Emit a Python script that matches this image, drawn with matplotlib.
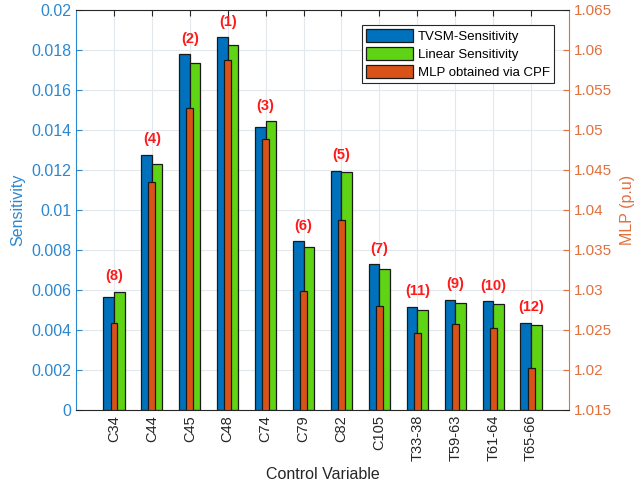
import matplotlib.pyplot as plt
import numpy as np

plt.rcParams['font.family'] = ['Liberation Sans', 'DejaVu Sans']

# Control variables and their sensitivities / maximum loading point
variables = ['C34', 'C44', 'C45', 'C48', 'C74', 'C79', 'C82', 'C105',
             'T33-38', 'T59-63', 'T61-64', 'T65-66']
tvsm_sens = [0.00567, 0.01277, 0.01778, 0.01863, 0.01415, 0.00845,
             0.01197, 0.00730, 0.00517, 0.00552, 0.00545, 0.00437]
linear_sens = [0.00592, 0.01232, 0.01733, 0.01823, 0.01443, 0.00817,
               0.01190, 0.00707, 0.00500, 0.00535, 0.00528, 0.00425]
mlp_cpf = [1.0259, 1.0435, 1.0528, 1.0588, 1.0489, 1.0299,
           1.0387, 1.0280, 1.0246, 1.0258, 1.0252, 1.0202]
ranks = ['(8)', '(4)', '(2)', '(1)', '(3)', '(6)', '(5)', '(7)',
         '(11)', '(9)', '(10)', '(12)']

blue = '#0072BD'
green = '#5FD414'
orange = '#D95319'
blue_axis = '#2C87CF'
orange_axis = '#E2703E'

x = np.arange(1, len(variables) + 1)

fig, ax = plt.subplots(figsize=(6.36, 4.9), dpi=100)
fig.subplots_adjust(left=0.1195, right=0.8947, top=0.9796, bottom=0.1633)

b1 = ax.bar(x - 0.14, tvsm_sens, width=0.28, color=blue, edgecolor='#1a1a1a',
            linewidth=0.9, label='TVSM-Sensitivity')
b2 = ax.bar(x + 0.14, linear_sens, width=0.28, color=green, edgecolor='#1a1a1a',
            linewidth=0.9, label='Linear Sensitivity')

for xi, t, l, r in zip(x, tvsm_sens, linear_sens, ranks):
    ax.annotate(r, (xi, max(t, l)), xytext=(0, 6), textcoords='offset points',
                ha='center', va='bottom', color='#FF1A1A', fontsize=10.5,
                fontweight='bold')

ax.set_xlim(0, 13)
ax.set_ylim(0, 0.02)
ax.set_yticks(np.arange(0, 0.0201, 0.002))
ax.set_yticklabels(['0', '0.002', '0.004', '0.006', '0.008', '0.01',
                    '0.012', '0.014', '0.016', '0.018', '0.02'])
ax.set_xticks(x)
ax.set_xticklabels(variables, rotation=90, fontsize=10.5)
ax.tick_params(axis='x', direction='in', length=4, top=True, colors='#262626',
               labelcolor='#262626')
ax.tick_params(axis='y', direction='in', length=4, colors=blue_axis,
               labelsize=11.5, labelcolor=blue_axis)
ax.set_ylabel('Sensitivity', color=blue_axis, fontsize=11.5)
ax.set_xlabel('Control Variable', color='#262626', fontsize=11.5)
ax.grid(True, color='#e3e8ec', linewidth=0.8)
ax.set_axisbelow(True)

ax2 = ax.twinx()
b3 = ax2.bar(x, mlp_cpf, width=0.18, color=orange, edgecolor='#1a1a1a',
             linewidth=0.9, label='MLP obtained via CPF')
ax2.set_ylim(1.015, 1.065)
ax2.set_yticks(np.arange(1.015, 1.0651, 0.005))
ax2.set_yticklabels(['1.015', '1.02', '1.025', '1.03', '1.035', '1.04',
                     '1.045', '1.05', '1.055', '1.06', '1.065'])
ax2.tick_params(axis='y', direction='in', length=4, colors=orange_axis,
                labelsize=11, labelcolor=orange_axis)
ax2.set_ylabel('MLP (p.u)', color=orange_axis, fontsize=11.5, labelpad=6)

ax2.spines['left'].set_color(blue_axis)
ax2.spines['right'].set_color(orange_axis)
ax2.spines['top'].set_color('#262626')
ax2.spines['bottom'].set_color('#262626')
for s in ax.spines.values():
    s.set_visible(False)

leg = ax2.legend([b1, b2, b3],
                 ['TVSM-Sensitivity', 'Linear Sensitivity', 'MLP obtained via CPF'],
                 loc='upper right', bbox_to_anchor=(0.975, 0.97), fontsize=9.5,
                 fancybox=False, framealpha=1, edgecolor='#262626',
                 borderpad=0.3, labelspacing=0.3, handlelength=3.6,
                 handleheight=1.2, handletextpad=0.35, borderaxespad=0.2)
leg.get_frame().set_linewidth(0.8)

fig.savefig('out.png', dpi=100)
